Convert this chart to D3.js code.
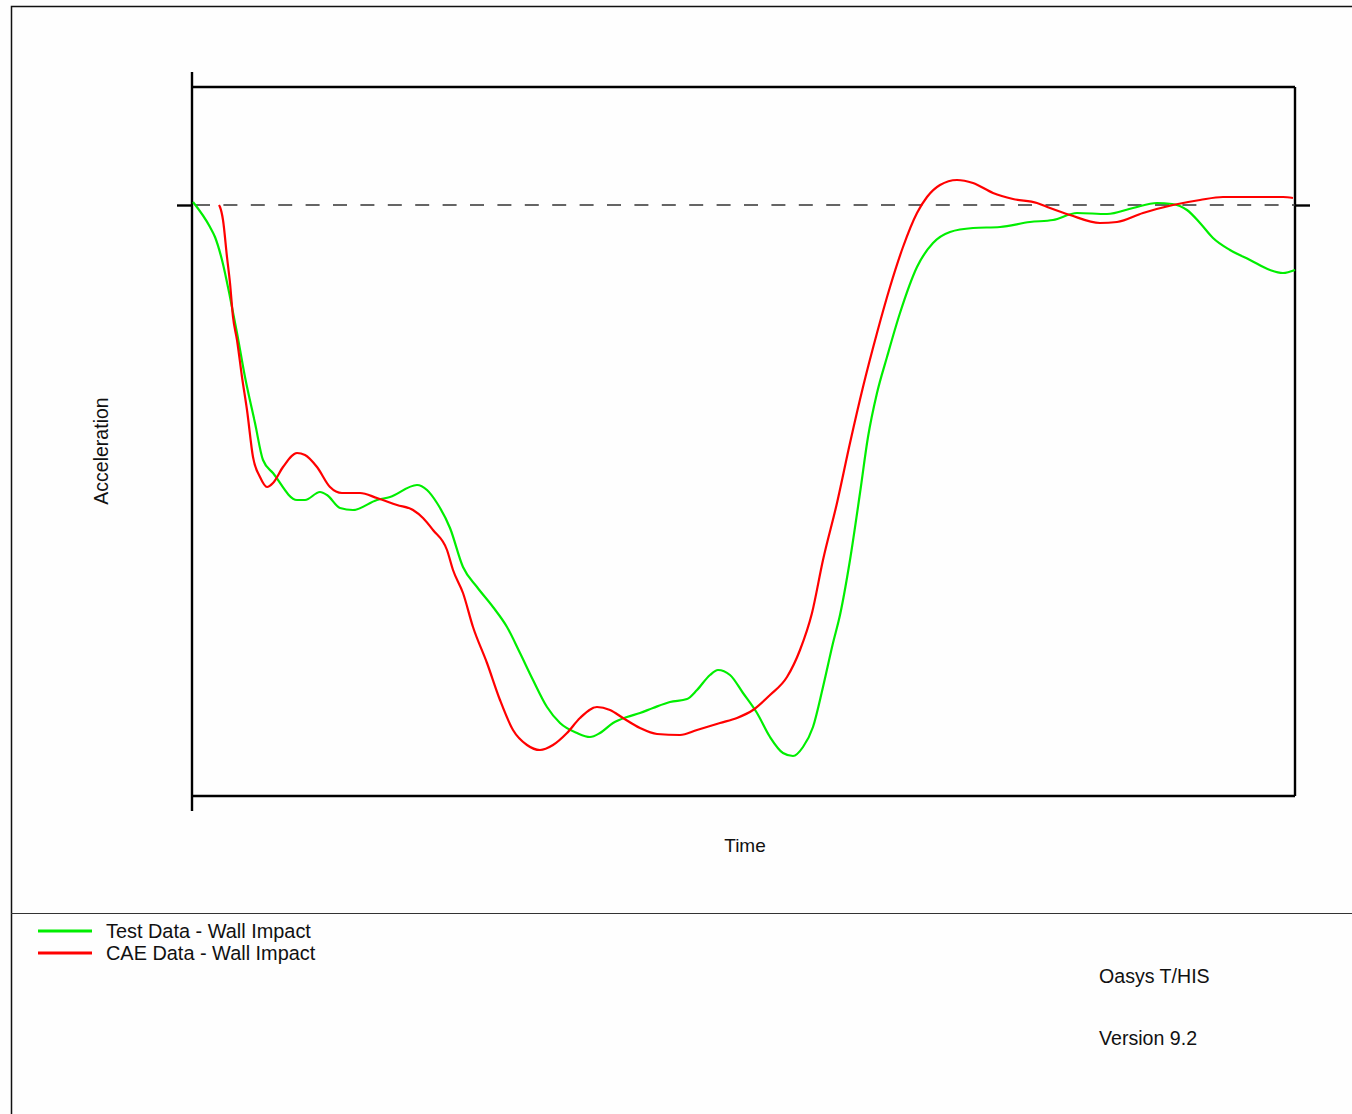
<!DOCTYPE html>
<html>
<head>
<meta charset="utf-8">
<script src="https://cdn.jsdelivr.net/npm/d3@7"></script>
<style>
  html, body { margin: 0; padding: 0; background: #fefefe; }
  svg { display: block; }
  text { font-family: "Liberation Sans", Arial, sans-serif; fill: #111; }
</style>
</head>
<body>
<script>
// ---- data (time in ms, acceleration in g) ----
const testTime = [0.1,1.8,2.3,3.0,3.8,4.5,5.3,6.3,7.1,8.1,10.5,11.3,12.8,13.5,14.8,16.1,18.5,19.8,22.5,23.5,24.5,25.8,27.1,28.5,30.1,31.5,32.8,34.1,35.5,36.8,38.5,39.8,40.8,42.1,43.5,44.8,46.1,47.8,49.5,50.5,51.8,52.6,53.8,55.1,56.5,57.8,59.1,60.1,61.1,62.1,63.1,64.1,64.8,65.8,66.8,67.6,68.5,69.5,70.8,72.5,74.1,75.8,78.1,80.8,83.8,86.1,88.5,91.5,94.1,96.5,98.0,99.5,100.8,102.1,103.8,105.8,107.8,109.1,110.3];
const testAccel = [0.3,-2.2,-3.2,-5.5,-9.2,-12.8,-17.2,-21.8,-25.5,-26.8,-29.5,-29.5,-28.7,-29.0,-30.3,-30.5,-29.5,-29.2,-28.0,-28.5,-29.8,-32.3,-36.2,-38.2,-40.2,-42.2,-44.8,-47.5,-50.2,-51.8,-52.8,-53.2,-52.8,-51.8,-51.2,-50.8,-50.3,-49.7,-49.4,-48.5,-47.0,-46.5,-47.0,-48.8,-50.8,-53.2,-54.8,-55.1,-54.2,-52.2,-48.2,-43.8,-41.0,-35.5,-28.8,-23.2,-18.8,-15.2,-10.8,-6.2,-3.8,-2.7,-2.3,-2.2,-1.7,-1.5,-0.8,-0.9,-0.3,0.2,0.1,-0.5,-1.8,-3.3,-4.5,-5.5,-6.5,-6.8,-6.5];

const caeTime = [2.7,2.8,3.1,3.5,3.8,4.1,4.5,5.0,5.5,6.1,6.8,7.5,8.1,9.1,10.5,11.3,12.5,13.8,15.0,16.8,18.5,20.5,22.1,23.1,24.1,25.5,26.1,27.1,28.1,29.5,30.8,32.1,33.5,34.8,36.1,37.5,38.8,40.5,41.8,43.1,44.8,46.5,48.8,50.5,52.8,54.5,56.1,57.8,59.5,60.8,62.0,63.1,64.5,65.8,67.1,68.5,69.8,71.1,72.5,73.5,74.8,76.5,78.1,80.1,82.1,84.5,85.8,87.8,90.8,92.5,95.1,98.1,100.8,103.1,109.1,110.1];
const caeAccel = [0,-0.2,-1.5,-5.2,-7.8,-11.2,-13.5,-17.2,-20.5,-25.2,-27.2,-28.2,-27.8,-26.2,-24.8,-25.0,-26.2,-28.2,-28.8,-28.8,-29.3,-30.0,-30.5,-31.3,-32.5,-34.5,-36.5,-38.8,-42.2,-45.8,-49.5,-52.5,-54.0,-54.5,-54.0,-52.8,-51.3,-50.2,-50.5,-51.3,-52.3,-52.9,-53.0,-52.5,-51.8,-51.3,-50.5,-49.0,-47.2,-44.5,-40.8,-35.5,-29.8,-23.8,-18.2,-12.8,-8.2,-4.2,-0.8,0.8,2.0,2.5,2.2,1.2,0.6,0.2,-0.3,-1.0,-1.8,-1.7,-0.8,0,0.5,0.8,0.8,0.7];

const seriesNames = ["Test Data - Wall Impact", "CAE Data - Wall Impact"];
const seriesColors = ["#00ee00", "#ff0000"];
const xDomain = [0, 110.3];
const yDomain = [-59.1, 11.8];
const zeroTick = [0];
const xLabel = "Time";
const yLabel = "Acceleration";
const footerLines = ["Oasys T/HIS", "Version 9.2"];

// ---- layout ----
const W = 1352, H = 1114;
const svg = d3.select("body").append("svg").attr("width", W).attr("height", H);

const x = d3.scaleLinear().domain(xDomain).range([192, 1295]);
const y = d3.scaleLinear().domain(yDomain).range([796, 87]);

// outer border and separator
svg.append("path").attr("d", `M11.5,${H} L11.5,6.5 L${W},6.5`)
  .attr("fill", "none").attr("stroke", "#111").attr("stroke-width", 1.5);
svg.append("line").attr("x1", 11).attr("x2", W).attr("y1", 913.5).attr("y2", 913.5)
  .attr("stroke", "#333").attr("stroke-width", 1.2);

// plot frame
const frame = svg.append("g").attr("stroke", "#000").attr("stroke-width", 2.4).attr("fill", "none");
frame.append("line").attr("x1", x(xDomain[0])).attr("x2", x(xDomain[0])).attr("y1", y(yDomain[1]) - 15).attr("y2", y(yDomain[0]) + 15);
frame.append("line").attr("x1", x(xDomain[0])).attr("x2", x(xDomain[1])).attr("y1", y(yDomain[1])).attr("y2", y(yDomain[1]));
frame.append("line").attr("x1", x(xDomain[1])).attr("x2", x(xDomain[1])).attr("y1", y(yDomain[1])).attr("y2", y(yDomain[0]));
frame.append("line").attr("x1", x(xDomain[0])).attr("x2", x(xDomain[1])).attr("y1", y(yDomain[0])).attr("y2", y(yDomain[0]));

// zero ticks via d3 axes (no labels)
const axL = d3.axisLeft(y).tickValues(zeroTick).tickSizeInner(15).tickSizeOuter(0).tickFormat("");
const axR = d3.axisRight(y).tickValues(zeroTick).tickSizeInner(15).tickSizeOuter(0).tickFormat("");
const gL = svg.append("g").attr("transform", `translate(${x(xDomain[0])},0)`).call(axL);
const gR = svg.append("g").attr("transform", `translate(${x(xDomain[1])},0)`).call(axR);
[gL, gR].forEach(g => {
  g.select(".domain").remove();
  g.selectAll(".tick line").attr("stroke", "#000").attr("stroke-width", 2.4);
});

// dashed zero line
svg.append("line")
  .attr("x1", x(xDomain[0])).attr("x2", x(xDomain[1]))
  .attr("y1", y(0)).attr("y2", y(0))
  .attr("stroke", "#333").attr("stroke-width", 1.5)
  .attr("stroke-dasharray", "14,13.4").attr("stroke-dashoffset", -4);

// curves
const line = d3.line().x(d => x(d[0])).y(d => y(d[1])).curve(d3.curveMonotoneX);
const testData = testTime.map((t, i) => [t, testAccel[i]]);
const caeData = caeTime.map((t, i) => [t, caeAccel[i]]);
[testData, caeData].forEach((d, i) => {
  svg.append("path").datum(d).attr("d", line)
    .attr("fill", "none").attr("stroke", seriesColors[i]).attr("stroke-width", 2.2)
    .attr("stroke-linejoin", "round");
});

// axis labels
svg.append("text").attr("x", 745).attr("y", 852).attr("text-anchor", "middle")
  .attr("font-size", 19).text(xLabel);
svg.append("text").attr("transform", "translate(108,451) rotate(-90)").attr("text-anchor", "middle")
  .attr("font-size", 19.5).text(yLabel);

// legend
seriesNames.forEach((n, i) => {
  const yy = 931 + i * 22;
  svg.append("line").attr("x1", 38).attr("x2", 92).attr("y1", yy).attr("y2", yy)
    .attr("stroke", seriesColors[i]).attr("stroke-width", 3);
  svg.append("text").attr("x", 106).attr("y", yy + 7).attr("font-size", 19.9).text(n);
});

// footer text
footerLines.forEach((t, i) => {
  svg.append("text").attr("x", 1099).attr("y", 983 + i * 62).attr("font-size", 19.6).text(t);
});
</script>
</body>
</html>
